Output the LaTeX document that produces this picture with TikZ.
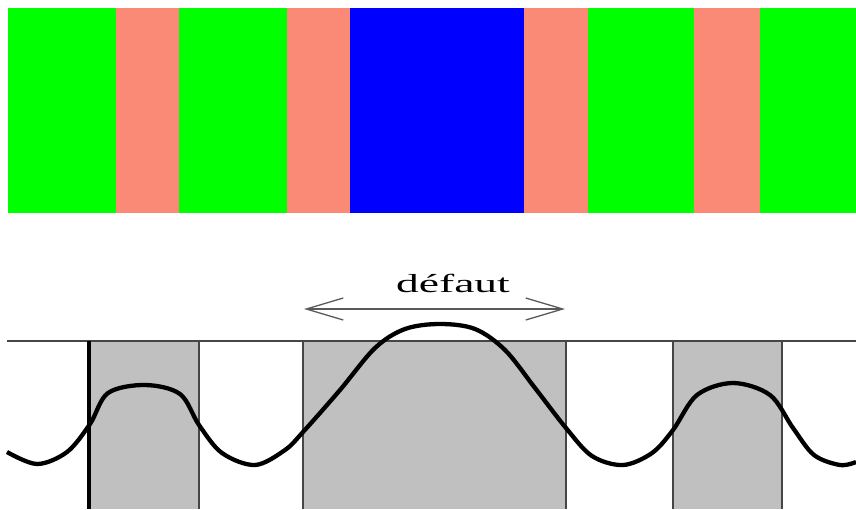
\documentclass[tikz,border=0pt]{standalone}
\usetikzlibrary{arrows.meta}
\usepackage{fontspec}
\setmainfont{Liberation Serif}
\definecolor{stripgreen}{RGB}{0,255,0}
\definecolor{stripsalmon}{RGB}{250,137,118}
\definecolor{stripblue}{RGB}{0,0,255}
\definecolor{cellgray}{RGB}{192,192,192}
\definecolor{edgegray}{RGB}{70,70,70}
\definecolor{arrowgray}{RGB}{90,90,90}
\begin{document}
\begin{tikzpicture}[x=1pt,y=-1pt,
  cell/.style={fill=cellgray,draw=none},
  celledge/.style={draw=edgegray,line width=2pt},
  baseline/.style={draw=edgegray,line width=1.5pt},
  profile/.style={draw=black,line width=4.3pt,line join=round},
  span/.style={draw=arrowgray,line width=1.3pt,
    {Straight Barb[length=37pt,width=22pt]}-{Straight Barb[length=37pt,width=22pt]}}]
\useasboundingbox (0,0) rectangle (856,509);

% colour band
\fill[stripgreen]  (8,8)   rectangle (116,213);
\fill[stripsalmon] (116,8) rectangle (178.5,213);
\fill[stripgreen]  (178.5,8) rectangle (287,213);
\fill[stripsalmon] (287,8) rectangle (350,213);
\fill[stripblue]   (350,8) rectangle (523.5,213);
\fill[stripsalmon] (523.5,8) rectangle (587.5,213);
\fill[stripgreen]  (587.5,8) rectangle (693.5,213);
\fill[stripsalmon] (693.5,8) rectangle (759.5,213);
\fill[stripgreen]  (759.5,8) rectangle (856,213);

% shaded cells
\fill[cell] (89,341) rectangle (199,509);
\fill[cell] (303,341) rectangle (566,509);
\fill[cell] (673,341) rectangle (782,509);

\draw[baseline] (7,341) -- (856,341);
\draw[draw=black,line width=4pt] (89,341) -- (89,509);
\draw[celledge] (199,341) -- (199,509);
\draw[celledge] (303,341) -- (303,509);
\draw[celledge] (566,341) -- (566,509);
\draw[celledge] (673,341) -- (673,509);
\draw[celledge] (782,341) -- (782,509);

% profile curve
\draw[profile] plot[smooth,tension=0.55] coordinates {
  (7,452) (37,464) (67,452) (90,424) (108,393) (145,385)
  (180,394) (199,425) (222,453) (255,465) (285,450)
  (303,432) (340,390) (375,348) (405,329) (440,324) (475,329)
  (505,350) (535,388) (566,428) (592,456) (623,465) (652,453)
  (673,430) (697,395) (733,383) (770,395) (793,428) (814,455)
  (840,465) (856,462)};

% defect span
\coordinate (dl) at (304,309);
\coordinate (dr) at (565,309);
\draw[span] (dl) -- (dr);
\node (lbl) at (453,283) {\scalebox{1.75}[1]{\fontsize{26}{30}\selectfont d\'efaut}};
\end{tikzpicture}
\end{document}
